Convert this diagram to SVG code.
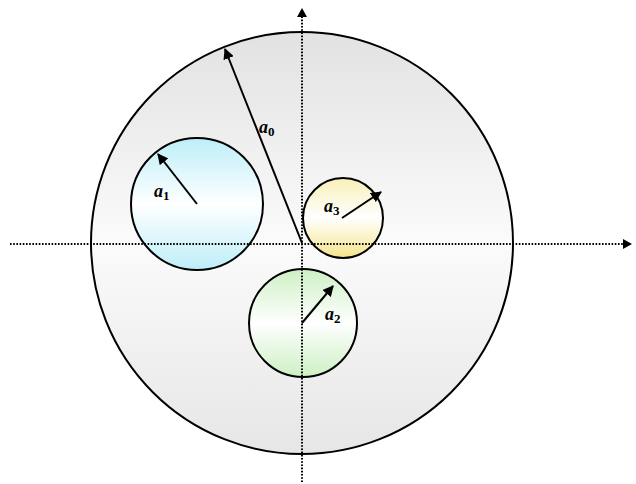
<svg xmlns="http://www.w3.org/2000/svg" width="636" height="484" viewBox="0 0 636 484">
<style>
.circ{stroke:#000;stroke-width:2}
.axis{stroke:#000;stroke-width:2;stroke-dasharray:1.6 1.6;fill:none}
.arr{stroke:#000;stroke-width:2;fill:none}
.lbl{font-family:"Liberation Serif",serif;font-style:italic;font-weight:bold;font-size:18px;fill:#000}
.sub{font-style:normal;font-size:13px}
</style>
<defs>
<linearGradient id="gBig" x1="0" y1="0" x2="0" y2="1">
<stop offset="0" stop-color="#e2e2e2"/>
<stop offset="0.5" stop-color="#fbfbfb"/>
<stop offset="1" stop-color="#e6e6e6"/>
</linearGradient>
<linearGradient id="gCyan" x1="0" y1="0" x2="0" y2="1">
<stop offset="0" stop-color="#bdeef8"/>
<stop offset="0.5" stop-color="#ffffff"/>
<stop offset="1" stop-color="#bdeef8"/>
</linearGradient>
<linearGradient id="gYel" x1="0" y1="0" x2="0" y2="1">
<stop offset="0" stop-color="#f9f0b8"/>
<stop offset="0.5" stop-color="#ffffff"/>
<stop offset="1" stop-color="#f5e48a"/>
</linearGradient>
<linearGradient id="gGrn" x1="0" y1="0" x2="0" y2="1">
<stop offset="0" stop-color="#cdf0c4"/>
<stop offset="0.5" stop-color="#ffffff"/>
<stop offset="1" stop-color="#cdf0c4"/>
</linearGradient>
<marker id="ah" viewBox="0 0 10 10" refX="9" refY="5" markerWidth="5.5" markerHeight="5.5" orient="auto" markerUnits="strokeWidth">
<path d="M0,0 L10,5 L0,10 z" fill="#000"/>
</marker>
</defs>
<g id="outer">
<circle class="circ" cx="302" cy="243" r="211" fill="url(#gBig)"/>
</g>
<g id="c1">
<circle class="circ" cx="197" cy="204" r="66" fill="url(#gCyan)"/>
</g>
<g id="c3">
<circle class="circ" cx="343" cy="218" r="40" fill="url(#gYel)"/>
</g>
<g id="c2">
<circle class="circ" cx="303" cy="323" r="54" fill="url(#gGrn)"/>
</g>
<g id="connectors">
<line class="axis" x1="10" y1="244" x2="623" y2="244"/>
<path d="M623,239 L632,244 L623,249 z" fill="#000"/>
<line class="axis" x1="302" y1="482" x2="302" y2="17"/>
<path d="M297,17 L302,8 L307,17 z" fill="#000"/>
<line class="arr" x1="302" y1="243" x2="225" y2="49" marker-end="url(#ah)"/>
<line class="arr" x1="197" y1="204" x2="158" y2="154" marker-end="url(#ah)"/>
<line class="arr" x1="342" y1="218" x2="381" y2="192" marker-end="url(#ah)"/>
<line class="arr" x1="302" y1="323" x2="333" y2="286" marker-end="url(#ah)"/>
</g>
<g id="labels">
<text class="lbl" x="259" y="133">a<tspan class="sub" dy="3">0</tspan></text>
<text class="lbl" x="154" y="197">a<tspan class="sub" dy="3">1</tspan></text>
<text class="lbl" x="325" y="320">a<tspan class="sub" dy="3">2</tspan></text>
<text class="lbl" x="324" y="212">a<tspan class="sub" dy="3">3</tspan></text>
</g>
</svg>
